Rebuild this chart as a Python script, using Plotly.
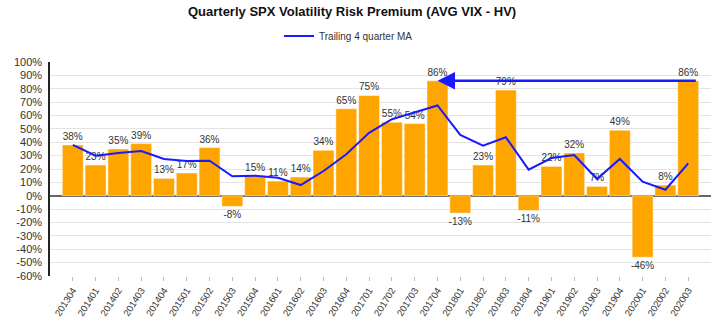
import plotly.graph_objects as go

# Quarterly data
quarters = ["201304", "201401", "201402", "201403", "201404", "201501", "201502",
            "201503", "201504", "201601", "201602", "201603", "201604", "201701",
            "201702", "201703", "201704", "201801", "201802", "201803", "201804",
            "201901", "201902", "201903", "201904", "202001", "202002", "202003"]

# Volatility risk premium per quarter (%)
vrp = [38, 23, 35, 39, 13, 17, 36, -8, 15, 11, 14, 34, 65, 75, 55, 54, 86,
       -13, 23, 79, -11, 22, 32, 7, 49, -46, 8, 86]

# Trailing 4 quarter moving average (%)
ma4 = [38, 30, 32, 33.5, 27.5, 26, 26.2, 14.5, 15, 13.5, 8, 18.5, 31, 47, 57.2,
       62.2, 67.5, 45.5, 37.5, 43.7, 19.5, 28.2, 30.5, 12.5, 27.5, 10.5, 4.5, 24.2]

y_ticks = list(range(-60, 101, 10))
y_tick_labels = [f"{v}%" for v in y_ticks]

x = list(range(len(quarters)))

fig = go.Figure()

fig.add_trace(go.Bar(
    x=x, y=vrp,
    marker=dict(color="#FFA500", line=dict(color="white", width=0.5)),
    width=0.92,
    text=[f"{v}%" for v in vrp],
    textposition="outside",
    constraintext="none",
    textfont=dict(family="Liberation Sans, Arial", size=10, color="#333333"),
    cliponaxis=False,
    showlegend=False,
    hoverinfo="skip",
))

fig.add_trace(go.Scatter(
    x=x, y=ma4, mode="lines",
    line=dict(color="#1a1aff", width=2),
    name="Trailing 4 quarter MA",
))

# Arrow from the latest quarter back to the 201704 peak
peak_idx = quarters.index("201704")
last_idx = len(quarters) - 1
fig.add_annotation(
    x=peak_idx, y=vrp[peak_idx],
    ax=last_idx + 0.4, ay=vrp[last_idx],
    xref="x", yref="y", axref="x", ayref="y",
    text="", showarrow=True,
    arrowhead=2, arrowsize=1.4, arrowwidth=2.5, arrowcolor="#1a1aff",
    standoff=0,
)

fig.update_layout(
    width=720, height=321,
    margin=dict(l=50, r=9, t=62, b=45),
    paper_bgcolor="white", plot_bgcolor="white",
    font=dict(family="Liberation Sans, Arial", color="#333333"),
    title=dict(
        text="<b>Quarterly SPX Volatility Risk Premium (AVG VIX - HV)</b>",
        x=0.489, xanchor="center", y=0.963, yanchor="middle",
        font=dict(size=13, color="#111111"),
    ),
    legend=dict(
        orientation="h", x=0.4516, xanchor="center", y=1.121, yanchor="middle",
        font=dict(size=10, color="#333333"), itemwidth=30,
        bgcolor="rgba(0,0,0,0)",
    ),
    bargap=0.08,
)

fig.update_xaxes(
    range=[-1, len(quarters)],
    tickvals=x, ticktext=quarters,
    tickangle=-58,
    tickfont=dict(size=9.5, color="#333333"),
    ticks="outside", ticklen=4, tickcolor="#bbbbbb",
    showgrid=False, zeroline=False,
    showline=False,
    automargin=False,
)

fig.update_yaxes(
    range=[-60, 100],
    tickvals=y_ticks, ticktext=y_tick_labels,
    tickfont=dict(size=11, color="#333333"),
    showgrid=True, gridcolor="#e3e3e3", gridwidth=1,
    zeroline=True, zerolinecolor="#666666", zerolinewidth=2,
    showline=True, linecolor="#222222", linewidth=1.5,
    ticks="", ticklabelstandoff=4,
    automargin=False,
)

fig.write_html("out.html")
